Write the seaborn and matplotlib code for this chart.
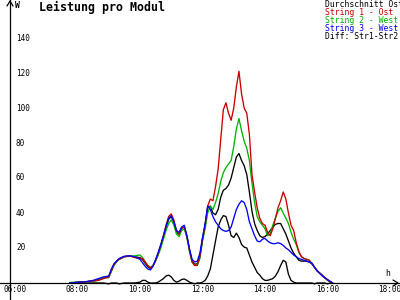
import matplotlib
matplotlib.use("Agg")
import matplotlib.pyplot as plt
from matplotlib.lines import Line2D
import numpy as np
import pandas as pd
import seaborn as sns

# ---------------- data ----------------
times = ["07:45", "08:00", "08:15", "08:30", "08:40", "08:50", "09:00", "09:05",
         "09:10", "09:15", "09:20", "09:30", "09:40", "09:50",
         "10:00", "10:05", "10:10", "10:15", "10:20", "10:25", "10:30", "10:35",
         "10:40", "10:45", "10:50", "10:55", "11:00", "11:05", "11:10", "11:15",
         "11:20", "11:25", "11:30", "11:35", "11:40", "11:45", "11:50", "11:55",
         "12:00", "12:05", "12:10", "12:15", "12:20", "12:25", "12:30", "12:35",
         "12:40", "12:45", "12:50", "12:55", "13:00", "13:05", "13:10", "13:15",
         "13:20", "13:25", "13:30", "13:35", "13:40", "13:45", "13:50", "13:55",
         "14:00", "14:05", "14:10", "14:15", "14:20", "14:25", "14:30", "14:35",
         "14:40", "14:45", "14:50", "14:55", "15:00", "15:05", "15:10", "15:15",
         "15:20", "15:25", "15:30", "15:35", "15:40", "15:45", "15:50", "15:55",
         "16:00", "16:05", "16:10"]

string1_ost = [0, 0.4, 0.6, 1.2, 1.5, 2.5, 3.5, 7.0,
               10.5, 12.5, 13.5, 15.0, 15.5, 14.5,
               14.0, 14.0, 12.0, 10.0, 8.5, 10.0, 13.0, 17.0,
               22.0, 27.0, 33.0, 38.0, 39.5, 36.0, 30.0, 28.0,
               31.5, 32.0, 27.0, 19.0, 12.0, 10.0, 10.0, 15.0,
               25.0, 33.0, 44.0, 48.0, 47.0, 55.0, 65.0, 82.0,
               99.0, 103.0, 97.0, 93.0, 100.0, 112.0, 121.0, 108.0,
               100.0, 97.0, 85.0, 62.0, 52.0, 43.0, 37.0, 34.0,
               33.0, 29.0, 27.0, 31.0, 37.0, 43.0, 47.0, 52.0,
               48.0, 40.0, 33.0, 30.0, 23.0, 18.0, 15.0, 14.0,
               13.5, 13.0, 11.0, 9.0, 7.0, 5.7, 4.5, 3.0,
               1.7, 0.8, 0]

string2_west = [0.3, 0.5, 0.7, 1.0, 1.5, 3.0, 3.0, 6.5,
                10.0, 12.0, 13.5, 15.0, 15.3, 15.5,
                16.0, 14.5, 12.0, 10.0, 9.0, 10.0, 12.5, 16.0,
                20.0, 25.0, 30.0, 34.0, 36.0, 33.0, 28.0, 26.5,
                30.0, 31.0, 26.0, 18.0, 12.0, 10.0, 10.5, 14.0,
                24.0, 31.0, 40.0, 44.0, 42.0, 46.0, 51.0, 58.0,
                63.0, 66.0, 68.0, 70.0, 78.0, 88.0, 94.0, 87.0,
                81.0, 77.0, 70.0, 57.0, 46.0, 38.0, 35.0, 33.0,
                31.0, 27.0, 28.0, 33.0, 37.0, 41.0, 43.0, 40.0,
                37.0, 34.0, 29.0, 25.0, 22.0, 17.5, 15.0, 14.0,
                13.5, 13.0, 11.0, 9.0, 7.0, 5.7, 4.5, 3.0,
                1.5, 0.8, 0]

string3_west = [0, 0.4, 0.7, 1.5, 2.5, 3.5, 4.0, 8.0,
                11.0, 12.5, 14.0, 15.3, 15.5, 15.0,
                13.5, 11.5, 9.5, 8.0, 7.5, 9.5, 13.5, 17.5,
                22.0, 27.0, 32.5, 37.0, 38.5, 35.0, 30.0, 29.0,
                32.0, 33.0, 27.0, 19.5, 13.5, 12.0, 12.5, 17.0,
                26.0, 34.0, 44.0, 42.0, 38.0, 35.0, 33.0, 31.0,
                30.0, 29.5, 30.0, 32.0, 37.0, 42.0, 45.0, 47.0,
                46.0, 42.0, 35.0, 31.0, 27.0, 24.0, 23.5, 25.0,
                25.5, 24.0, 23.0, 22.5, 22.5, 23.0, 22.5, 21.5,
                20.0, 19.0, 17.5, 16.0, 15.0, 14.0, 13.5, 13.0,
                12.5, 12.0, 11.5, 9.0, 7.0, 5.5, 4.0, 3.0,
                2.0, 1.0, 0]

durchschnitt_ost = [0, 0.4, 0.7, 1.2, 1.8, 3.0, 3.5, 7.2,
                    10.5, 12.3, 13.7, 15.1, 15.4, 15.0,
                    14.5, 13.3, 11.2, 9.3, 8.3, 9.8, 13.0, 16.8,
                    21.3, 26.3, 31.8, 36.3, 38.0, 34.7, 29.3, 27.8,
                    31.2, 32.0, 26.7, 18.8, 12.5, 10.7, 11.0, 15.3,
                    25.0, 32.7, 43.0, 44.0, 40.0, 39.0, 42.0, 49.0,
                    53.0, 54.0, 56.0, 60.0, 66.0, 72.0, 74.0, 70.0,
                    67.0, 62.0, 52.0, 41.0, 34.0, 30.0, 27.0, 26.0,
                    26.5, 28.0, 30.0, 32.0, 33.5, 34.0, 34.0, 31.0,
                    28.0, 24.0, 20.0, 17.0, 15.0, 13.0, 12.5, 12.5,
                    12.5, 12.0, 11.0, 9.0, 7.0, 5.6, 4.3, 3.0,
                    1.7, 0.8, 0]

diff_str1_str2 = [0, 0, 0, 0, 0, 0, -0.5, 0,
                  0, 0, -0.5, 0, 0, 0,
                  0.5, 1.5, 1.5, 0.5, 0, 0, 0, 0.5,
                  1.5, 2.5, 4.0, 4.5, 3.5, 1.5, 0.5, 1.0,
                  2.0, 2.3, 1.5, 0.5, 0, -0.5, 0, 0,
                  0.5, 1.5, 4.0, 8.0, 16.0, 24.0, 32.0, 36.0,
                  38.5, 38.0, 33.0, 27.0, 26.0, 28.5, 26.0, 22.0,
                  20.5, 20.0, 16.0, 12.0, 9.0, 6.0, 4.5, 2.5,
                  1.5, 1.5, 2.0, 2.5, 4.0, 6.5, 10.0, 13.0,
                  12.0, 5.0, 1.5, 0.5, 0, 0, 0, 0,
                  0, 0, 0, -0.5, 0, 0, 0, 0,
                  -0.5, 0, 0]

series_names = ["Durchschnitt Ost", "String 1 - Ost", "String 2 - West",
                "String 3 - West", "Diff: Str1-Str2"]
series_colors = ["#000000", "#c80000", "#00b400", "#0000ff", "#000000"]

xtick_hours = [6, 8, 10, 12, 14, 16, 18]
xtick_labels = ["06:00", "08:00", "10:00", "12:00", "14:00", "16:00", "18:00"]
ytick_values = [20, 40, 60, 80, 100, 120, 140]

title = "Leistung pro Modul"
y_unit = "W"
x_unit = "h"

# ---------------- build table ----------------
def to_hours(s):
    h, m = s.split(":")
    return int(h) + int(m) / 60.0

hours = [to_hours(t) for t in times]
df = pd.DataFrame({
    "t": hours,
    "Durchschnitt Ost": durchschnitt_ost,
    "String 1 - Ost": string1_ost,
    "String 2 - West": string2_west,
    "String 3 - West": string3_west,
    "Diff: Str1-Str2": diff_str1_str2,
})
long = df.melt(id_vars="t", var_name="serie", value_name="W")
color_of = dict(zip(series_names, series_colors))

# ---------------- figure ----------------
sns.set_style("white")
plt.rcParams["font.family"] = ["DejaVu Sans Mono"]

W_PX, H_PX = 400, 300
X0_PX, PX_PER_H = 15.0, 31.25      # 06:00 at x=15 px
Y0_PX, PX_PER_W = 283.0, 35.0 / 20  # 0 W at y=283 px

fig = plt.figure(figsize=(4, 3), dpi=100)
fig.patch.set_facecolor("white")
ax = fig.add_axes([0, 0, 1, 1])
ax.set_facecolor("white")
ax.set_xlim(6 - X0_PX / PX_PER_H, 6 + (W_PX - X0_PX) / PX_PER_H)
ax.set_ylim(-(H_PX - Y0_PX) / PX_PER_W, Y0_PX / PX_PER_W)

def xpx(px):
    return 6 + (px - X0_PX) / PX_PER_H

def ypx(py):
    return (Y0_PX - py) / PX_PER_W

draw_order = ["Diff: Str1-Str2", "Durchschnitt Ost", "String 2 - West",
              "String 1 - Ost", "String 3 - West"]
for name in draw_order:
    sub = long[long["serie"] == name]
    sns.lineplot(data=sub, x="t", y="W", color=color_of[name], lw=0.95,
                 ax=ax, legend=False, estimator=None, sort=False)

ax.set_xlabel("")
ax.set_ylabel("")

# axes lines
for s in ["top", "right"]:
    ax.spines[s].set_visible(False)
ax.spines["left"].set_position(("data", xpx(10)))
ax.spines["bottom"].set_position(("data", 0))
for s in ["left", "bottom"]:
    ax.spines[s].set_linewidth(0.9)
    ax.spines[s].set_color("black")

ax.set_xticks(xtick_hours)
ax.set_xticklabels([])
ax.set_yticks(ytick_values)
ax.set_yticklabels([])
ax.tick_params(direction="inout", length=4.5, width=0.9, colors="black")

for h, lab in zip(xtick_hours, xtick_labels):
    ax.text(h, ypx(290), lab, ha="center", va="center", fontsize=5.5,
            color="black")
for v in ytick_values:
    ax.text(xpx(16), v, str(v), ha="left", va="center", fontsize=5.5,
            color="black")

# arrow heads
def fpt(px, py):
    return px / W_PX, 1 - py / H_PX

for pts in ([(7, 6), (10, 1), (13, 6)], [(393, 280), (398, 283), (393, 286)]):
    xs, ys = zip(*[fpt(*p) for p in pts])
    fig.add_artist(Line2D(xs, ys, transform=fig.transFigure, color="black",
                          lw=0.9))

# texts
fig.text(*fpt(39, 7.5), title, fontsize=8.4, fontweight="bold",
         ha="left", va="center", color="black")
fig.text(*fpt(15, 6), y_unit, fontsize=5.8, fontweight="bold",
         ha="left", va="center", color="black")
fig.text(*fpt(385, 273), x_unit, fontsize=5.8, ha="left", va="center",
         color="black")

for i, (name, col) in enumerate(zip(series_names, series_colors)):
    fig.text(*fpt(325, 4.5 + 8 * i), name, fontsize=5.9, color=col,
             ha="left", va="center")

fig.savefig("out.png", dpi=100, facecolor="white")
